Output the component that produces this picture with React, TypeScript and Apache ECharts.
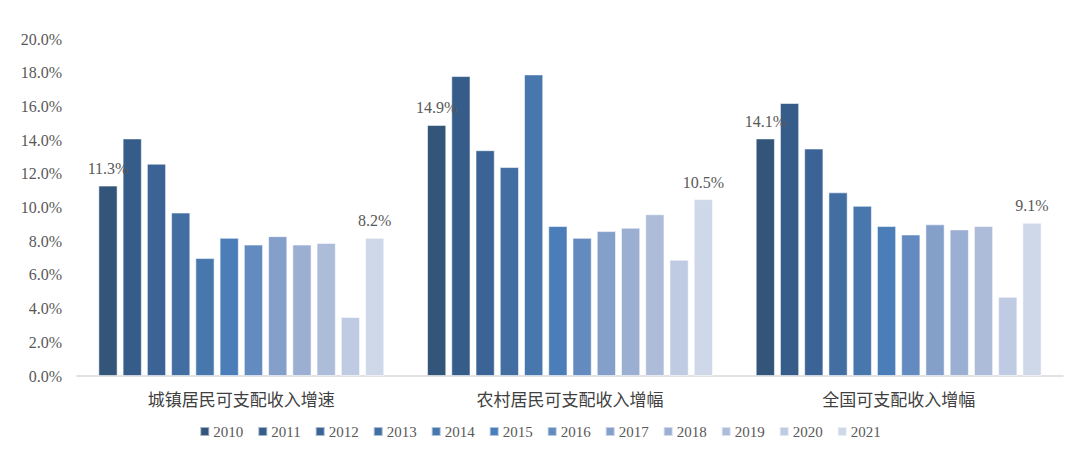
import React, { useEffect, useRef } from "react";
import * as echarts from "echarts";

const categories = ["城镇居民可支配收入增速", "农村居民可支配收入增幅", "全国可支配收入增幅"];
const years = ["2010", "2011", "2012", "2013", "2014", "2015", "2016", "2017", "2018", "2019", "2020", "2021"];
// values per year: [urban, rural, national]
const v2010 = [11.3, 14.9, 14.1];
const v2011 = [14.1, 17.8, 16.2];
const v2012 = [12.6, 13.4, 13.5];
const v2013 = [9.7, 12.4, 10.9];
const v2014 = [7.0, 17.9, 10.1];
const v2015 = [8.2, 8.9, 8.9];
const v2016 = [7.8, 8.2, 8.4];
const v2017 = [8.3, 8.6, 9.0];
const v2018 = [7.8, 8.8, 8.7];
const v2019 = [7.9, 9.6, 8.9];
const v2020 = [3.5, 6.9, 4.7];
const v2021 = [8.2, 10.5, 9.1];
const seriesValues = [v2010, v2011, v2012, v2013, v2014, v2015, v2016, v2017, v2018, v2019, v2020, v2021];
const colors = [
  "#335579", "#365d8a", "#3b6395", "#426ea2", "#4877ae", "#4b7db9",
  "#648bc0", "#839fca", "#9aafd2", "#adbcd9", "#bfcbe2", "#cfd8e8",
];
const labeledYears = ["2010", "2021"];

export default function App() {
  const ref = useRef<HTMLDivElement>(null);
  useEffect(() => {
    if (!ref.current) return;
    const chart = echarts.init(ref.current, null, { renderer: "svg" });
    const serif = "'Liberation Serif', 'DejaVu Serif', serif";
    chart.setOption({
      animation: false,
      backgroundColor: "#ffffff",
      grid: { left: 69, right: 9, top: 31, bottom: 71 },
      legend: {
        bottom: 3,
        left: "center",
        itemWidth: 9,
        itemHeight: 9,
        itemGap: 14,
        icon: "rect",
        textStyle: { fontFamily: serif, fontSize: 15, color: "#595959", padding: [0, 0, 0, -1] },
        data: years,
      },
      xAxis: {
        type: "category",
        data: categories,
        axisLine: { lineStyle: { color: "#d9d9d9", width: 1.5 } },
        axisTick: { show: false },
        axisLabel: {
          fontFamily: "'Noto Sans CJK SC', sans-serif",
          fontSize: 17,
          color: "#404040",
          margin: 14,
        },
      },
      yAxis: {
        type: "value",
        min: 0,
        max: 20,
        interval: 2,
        splitLine: { show: false },
        axisLine: { show: false },
        axisTick: { show: false },
        axisLabel: {
          fontFamily: serif,
          fontSize: 16,
          color: "#595959",
          margin: 15,
          formatter: (v: number) => v.toFixed(1) + "%",
        },
      },
      series: years.map((y, i) => ({
        name: y,
        type: "bar",
        data: seriesValues[i],
        barGap: "26%",
        barCategoryGap: "13%",
        itemStyle: { color: colors[i], borderColor: "rgba(255,255,255,0.55)", borderWidth: 1 },
        label: {
          show: labeledYears.includes(y),
          position: "top",
          distance: 9,
          fontFamily: serif,
          fontSize: 16,
          color: "#595959",
          formatter: (p: any) => p.value.toFixed(1) + "%",
        },
      })),
    });
    return () => chart.dispose();
  }, []);
  return <div ref={ref} style={{ width: 1064, height: 439 }} />;
}
